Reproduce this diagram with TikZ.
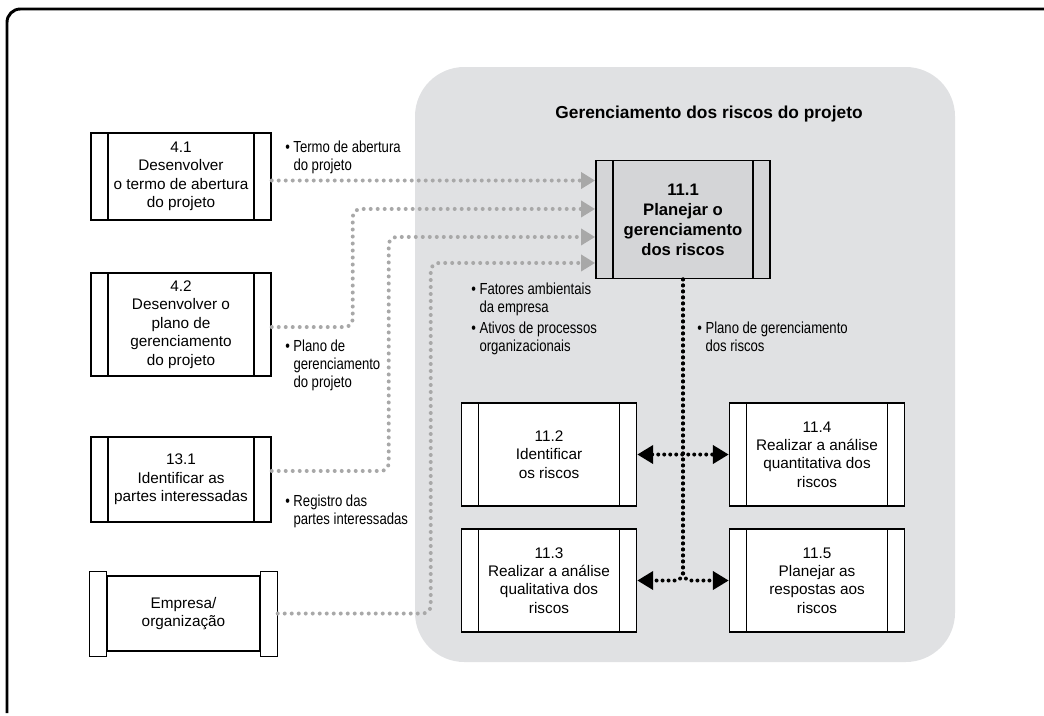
\documentclass[tikz,border=0pt]{standalone}
\usepackage{fontspec}
\setmainfont{Liberation Sans}
\newfontfamily\narrowfont[FakeStretch=0.82]{Liberation Sans}
\usetikzlibrary{arrows.meta}
\definecolor{regiongray}{HTML}{E0E1E3}
\definecolor{maingray}{HTML}{D4D5D7}
\definecolor{flowgray}{HTML}{A8A8A8}

\begin{document}
\begin{tikzpicture}[
    x=0.75pt, y=-0.75pt,
    >={Triangle[length=12pt,width=13.5pt]},
    procbox/.style={draw, line width=1.1pt, fill=white, align=center, inner sep=2pt,
        minimum width=131.25pt, minimum height=77.25pt,
        font=\fontsize{11.5}{13.8}\selectfont,
        path picture={\draw[line width=1.1pt]
            ([xshift=12.75pt]path picture bounding box.north west) -- ([xshift=12.75pt]path picture bounding box.south west)
            ([xshift=-12.75pt]path picture bounding box.north east) -- ([xshift=-12.75pt]path picture bounding box.south east);}},
    inbox/.style={procbox, minimum width=135pt},
    mainbox/.style={procbox, fill=maingray, line width=1.4pt, minimum width=130.5pt, minimum height=88.5pt,
        font=\bfseries\fontsize{12.5}{15}\selectfont},
    lbl/.style={anchor=north west, inner sep=0pt, align=left, font=\narrowfont\fontsize{12}{13.2}\selectfont},
    gflow/.style={draw=flowgray, line width=3pt, line cap=round, dash pattern=on 0pt off 5.25pt,
        rounded corners=6pt, -{Triangle[length=10.5pt,width=12pt]}},
    bflow/.style={draw=black, line width=3pt, line cap=round, dash pattern=on 0pt off 4.5pt, rounded corners=6pt}
]
\useasboundingbox (0,0) rectangle (1044,715);

% frame and process group
\draw[line width=2.2pt, rounded corners=10pt] (7,713) |- (1046,9);
\fill[regiongray, rounded corners=37pt] (415,67) rectangle (955,662);
\node[font=\bfseries\fontsize{13}{15}\selectfont] (title) at (709,114) {Gerenciamento dos riscos do projeto};

% inputs
\node[inbox, minimum height=65.25pt] (b41) at (181,176.5) {4.1\\Desenvolver\\o termo de abertura\\do projeto};
\node[inbox, minimum height=77.25pt] (b42) at (181,324.5) {4.2\\Desenvolver o\\plano de\\gerenciamento\\do projeto};
\node[inbox, minimum height=63.75pt] (b131) at (181,479.5) {13.1\\Identificar as\\partes interessadas};
\node[draw, line width=1.1pt, align=center, minimum width=114.75pt, minimum height=56.25pt,
    font=\fontsize{11.5}{13.8}\selectfont] (emp) at (183.5,613.5) {Empresa/\\organização};
\draw[line width=1.1pt] ([yshift=3pt]emp.north west) rectangle ([xshift=-12.75pt,yshift=-3.75pt]emp.south west);
\draw[line width=1.1pt] ([yshift=3pt]emp.north east) rectangle ([xshift=12.75pt,yshift=-3.75pt]emp.south east);

% processes
\node[mainbox] (b111) at (683,219.5) {11.1\\Planejar o\\gerenciamento\\dos riscos};
\node[procbox] (b112) at (549,454.5) {11.2\\Identificar\\os riscos};
\node[procbox] (b113) at (549,580.5) {11.3\\Realizar a análise\\qualitativa dos\\riscos};
\node[procbox] (b114) at (817,454.5) {11.4\\Realizar a análise\\quantitativa dos\\riscos};
\node[procbox] (b115) at (817,580.5) {11.5\\Planejar as\\respostas aos\\riscos};

% labels
\node[lbl] (l41) at (285,141) {\textbullet\ Termo de abertura\\\phantom{\textbullet\ }do projeto};
\node[lbl] (l42) at (285,340) {\textbullet\ Plano de\\\phantom{\textbullet\ }gerenciamento\\\phantom{\textbullet\ }do projeto};
\node[lbl] (l131) at (285,495) {\textbullet\ Registro das\\\phantom{\textbullet\ }partes interessadas};
\node[lbl] (lfat) at (471,283) {\textbullet\ Fatores ambientais\\\phantom{\textbullet\ }da empresa};
\node[lbl] (lati) at (471,322) {\textbullet\ Ativos de processos\\\phantom{\textbullet\ }organizacionais};
\node[lbl] (lpla) at (697,322) {\textbullet\ Plano de gerenciamento\\\phantom{\textbullet\ }dos riscos};

% flows into 11.1
\draw[gflow] ([yshift=-3pt]b41.east) -- ([yshift=29.25pt]b111.west);
\draw[gflow] ([yshift=-1.9pt]b42.east) -- ++(81,0) |- ([yshift=7.9pt]b111.west);
\draw[gflow] ([yshift=6.4pt]b131.east) -- ++(117,0) |- ([yshift=-13.1pt]b111.west);
\draw[gflow] ([xshift=12.75pt]emp.east) -- ++(153,0) |- ([yshift=-32.6pt]b111.west);

% flows out of 11.1
\draw[bflow, <->] (b112.east) -- (b114.west);
\draw[bflow, ->] (b111.south) |- (b113.east);
\draw[bflow, ->] (b111.south) |- (b115.west);

\end{tikzpicture}
\end{document}
